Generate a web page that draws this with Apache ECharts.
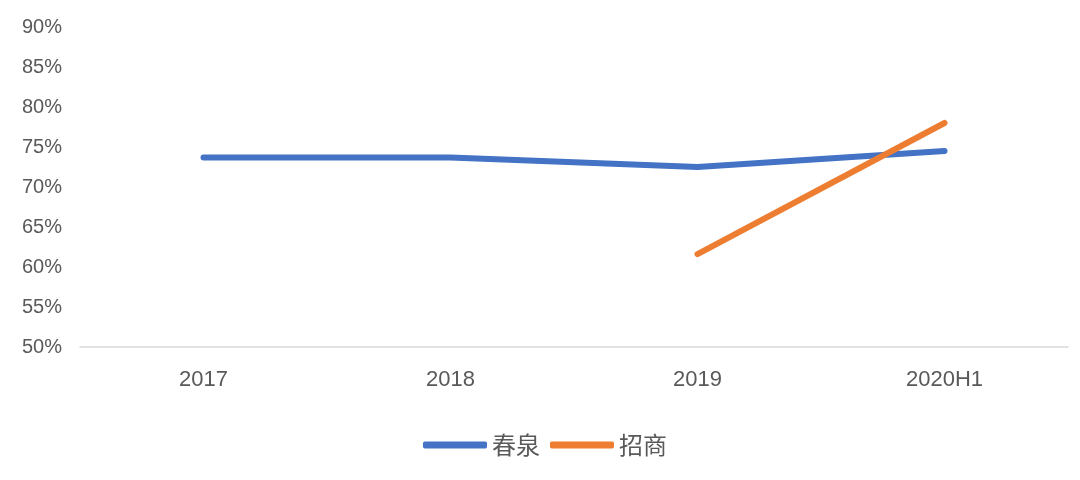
<!DOCTYPE html>
<html>
<head>
<meta charset="utf-8">
<script src="https://cdn.jsdelivr.net/npm/echarts@6/dist/echarts.min.js"></script>
<style>
html,body{margin:0;padding:0;background:#fff;}
#c{width:1080px;height:480px;}
</style>
</head>
<body>
<div id="c"></div>
<script>
var categories = ['2017', '2018', '2019', '2020H1'];
var chunquan = [73.7, 73.7, 72.5, 74.5];
var zhaoshang = [null, null, 61.6, 78.0];
var seriesNames = ['春泉', '招商'];

var chart = echarts.init(document.getElementById('c'), null, {renderer: 'canvas'});
chart.setOption({
  animation: false,
  backgroundColor: '#ffffff',
  grid: {left: 80, right: 12, top: 27, bottom: 133},
  legend: {
    left: 418, top: 428,
    itemWidth: 64, itemHeight: 7, itemGap: 10,
    icon: 'roundRect',
    textStyle: {fontSize: 24, color: '#595959', fontFamily: 'Noto Sans CJK SC'},
    data: seriesNames
  },
  xAxis: {
    type: 'category',
    data: categories,
    boundaryGap: true,
    axisLine: {lineStyle: {color: '#d9d9d9', width: 1.5}},
    axisTick: {show: false},
    axisLabel: {fontSize: 22, color: '#595959', margin: 22, fontFamily: 'Liberation Sans'}
  },
  yAxis: {
    type: 'value',
    min: 50, max: 90, interval: 5,
    axisLine: {show: false},
    axisTick: {show: false},
    splitLine: {show: false},
    axisLabel: {fontSize: 20, color: '#595959', margin: 18, fontFamily: 'Liberation Sans', formatter: '{value}%'}
  },
  series: [
    {name: seriesNames[0], type: 'line', data: chunquan, showSymbol: false, symbol: 'none',
     lineStyle: {color: '#4472C4', width: 6, cap: 'round', join: 'round'}, itemStyle: {color: '#4472C4'}},
    {name: seriesNames[1], type: 'line', data: zhaoshang, showSymbol: false, symbol: 'none',
     lineStyle: {color: '#ED7D31', width: 6, cap: 'round', join: 'round'}, itemStyle: {color: '#ED7D31'}}
  ]
});
</script>
</body>
</html>
